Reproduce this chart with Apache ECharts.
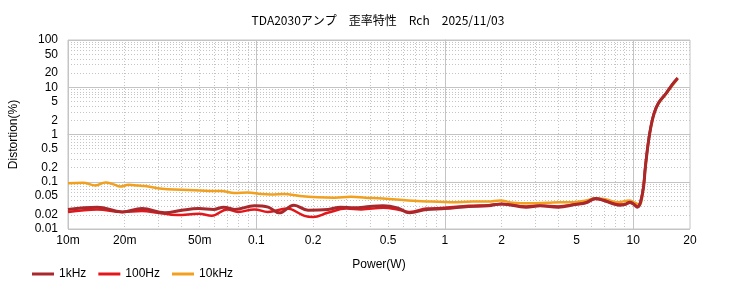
<!DOCTYPE html>
<html><head><meta charset="utf-8">
<script src="https://cdn.jsdelivr.net/npm/echarts@6/dist/echarts.min.js"></script>
<style>html,body{margin:0;padding:0;background:#fff}#c{width:756px;height:298px}</style>
</head><body><div id="c"></div>
<script>
// ---- data (Power in W, Distortion in %) ----
const seriesNames = ['1kHz', '100Hz', '10kHz'];
const power1k = [0.010,0.0143,0.0194,0.0247,0.0327,0.0402,0.0495,0.0593,0.067,0.0765,0.0976,0.1155,0.132,0.158,0.188,0.24,0.28,0.33,0.40,0.47,0.56,0.65,0.8,1.0,1.34,1.7,2.0,2.7,3.2,4.0,4.9,5.6,6.3,7.0,7.8,8.4,9.0,9.6,10.0,10.5,11.2,11.6,12.0,12.4,12.9,13.6,14.9,16.0,17.2];
const dist1k  = [0.026,0.029,0.023,0.027,0.022,0.025,0.027,0.026,0.029,0.026,0.031,0.029,0.022,0.032,0.025,0.026,0.029,0.028,0.030,0.031,0.028,0.022,0.026,0.027,0.030,0.031,0.034,0.029,0.031,0.029,0.033,0.036,0.044,0.040,0.034,0.032,0.033,0.037,0.034,0.029,0.057,0.21,0.65,1.46,2.8,4.6,7.3,11.0,15.5];
const power100 = [0.010,0.0143,0.0194,0.0247,0.030,0.038,0.0495,0.058,0.070,0.080,0.0976,0.115,0.145,0.18,0.20,0.239,0.30,0.36,0.47,0.56,0.65,0.8,1.0,1.34,1.7,2.0,2.7,3.2,4.0,4.9,5.6,6.3,7.0,7.8,8.4,9.0,9.6,10.0,10.5,11.2,11.6,12.0,12.4,12.9,13.6,14.9,16.0,17.2];
const dist100  = [0.023,0.026,0.023,0.024,0.022,0.0197,0.021,0.019,0.026,0.023,0.026,0.023,0.027,0.019,0.018,0.022,0.027,0.026,0.028,0.026,0.023,0.027,0.028,0.031,0.032,0.034,0.030,0.031,0.030,0.033,0.036,0.043,0.040,0.035,0.033,0.033,0.036,0.034,0.030,0.060,0.22,0.68,1.5,2.9,4.7,7.4,11.2,15.8];
const power10k = [0.010,0.012,0.014,0.0158,0.0175,0.0189,0.021,0.0235,0.0256,0.0315,0.040,0.047,0.056,0.065,0.0766,0.090,0.106,0.12,0.14,0.17,0.212,0.26,0.317,0.38,0.47,0.60,0.71,0.85,1.07,1.41,1.7,1.96,2.3,2.8,3.5,4.1,4.8,5.6,6.3,7.2,8.3,9.5,10.2,10.8,11.2,11.6,12.0,12.4,12.9,13.6,14.9,16.0,17.2];
const dist10k  = [0.093,0.095,0.083,0.097,0.088,0.079,0.086,0.083,0.081,0.071,0.068,0.066,0.064,0.064,0.058,0.059,0.055,0.054,0.055,0.050,0.047,0.046,0.048,0.046,0.044,0.041,0.039,0.038,0.037,0.038,0.038,0.040,0.036,0.035,0.036,0.037,0.037,0.040,0.045,0.042,0.037,0.040,0.036,0.032,0.055,0.20,0.62,1.4,2.7,4.5,7.2,10.5,15.0];

const xTickValues = [0.01,0.02,0.05,0.1,0.2,0.5,1,2,5,10,20];
const xTickLabels = ['10m','20m','50m','0.1','0.2','0.5','1','2','5','10','20'];
const yTickValues = [0.01,0.02,0.05,0.1,0.2,0.5,1,2,5,10,20,50,100];
const yTickLabels = ['0.01','0.02','0.05','0.1','0.2','0.5','1','2','5','10','20','50','100'];
const xMin = 0.01, xMax = 20, yMin = 0.01, yMax = 100;

// ---- build ----
const L = Math.log10;
function minorVals(lo, hi){
  const out=[];
  for(let e=Math.floor(L(lo)); e<Math.ceil(L(hi)); e++){
    for(let m=2;m<=9;m++){ const v=m*Math.pow(10,e); if(v>lo && v<hi) out.push(L(v)); }
  }
  return out;
}
function majorVals(lo, hi){
  const out=[]; for(let e=Math.ceil(L(lo)); e<=Math.floor(L(hi)); e++) out.push(e); return out;
}
function fmt(vals, labels){
  return function(v){ for(let i=0;i<vals.length;i++){ if(Math.abs(L(vals[i])-v)<1e-6) return labels[i]; } return ''; };
}
const gridCol = '#c4c4c4';
const font = 'Liberation Sans, Arial, sans-serif';
const toPts = (xs, ys) => xs.map((x,i)=>[L(x), L(ys[i])]);

const chart = echarts.init(document.getElementById('c'), null, {renderer:'canvas'});
chart.setOption({
  animation:false,
  title:{text:'TDA2030アンプ　歪率特性　Rch　2025/11/03', left:'center', top:9,
    textStyle:{fontFamily:'Noto Sans CJK JP', fontSize:12, fontWeight:'normal', color:'#000'}},
  grid:{left:65.5, right:66, top:40, bottom:69, show:true, borderColor:gridCol, borderWidth:1, containLabel:false},
  legend:{left:32, top:268, padding:0, itemWidth:22, itemHeight:3, itemGap:12, icon:'rect',
    textStyle:{fontFamily:font, fontSize:12, color:'#000'},
    data:seriesNames},
  xAxis:[
    {type:'value', min:L(xMin), max:L(xMax), name:'Power(W)', nameLocation:'middle', nameGap:30,
     nameTextStyle:{fontFamily:font, fontSize:12, color:'#000'},
     axisLine:{show:true, lineStyle:{color:gridCol}},
     axisTick:{show:false, customValues:majorVals(xMin,xMax)},
     axisLabel:{customValues:xTickValues.map(L), formatter:fmt(xTickValues,xTickLabels), fontFamily:font, fontSize:12, color:'#000', margin:6, showMinLabel:true, showMaxLabel:true, hideOverlap:false},
     splitLine:{show:true, lineStyle:{color:gridCol, width:1, type:'solid'}}},
    {type:'value', min:L(xMin), max:L(xMax), position:'top',
     axisLine:{show:false}, axisTick:{show:false, customValues:minorVals(xMin,xMax)},
     axisLabel:{show:false},
     splitLine:{show:true, lineStyle:{color:gridCol, width:1, type:[1,2]}}}
  ],
  yAxis:[
    {type:'value', min:L(yMin), max:L(yMax), name:'Distortion(%)', nameLocation:'middle', nameGap:48, nameRotate:90,
     nameTextStyle:{fontFamily:font, fontSize:12, color:'#000'},
     axisLine:{show:true, lineStyle:{color:gridCol}},
     axisTick:{show:true, length:7, lineStyle:{color:gridCol}, customValues:majorVals(yMin,yMax)},
     axisLabel:{customValues:yTickValues.map(L), formatter:fmt(yTickValues,yTickLabels), fontFamily:font, fontSize:12, color:'#000', margin:10, showMinLabel:true, showMaxLabel:true, hideOverlap:false},
     splitLine:{show:true, lineStyle:{color:gridCol, width:1, type:'solid'}}},
    {type:'value', min:L(yMin), max:L(yMax), position:'right',
     axisLine:{show:false}, axisTick:{show:false, customValues:minorVals(yMin,yMax)},
     axisLabel:{show:false},
     splitLine:{show:true, lineStyle:{color:gridCol, width:1, type:[1,2]}}}
  ],
  series:[
    {name:'10kHz', type:'line', data:toPts(power10k,dist10k), smooth:0.4, showSymbol:false, z:2,
     lineStyle:{color:'#f2a11f', width:2.5}, itemStyle:{color:'#f2a11f'}},
    {name:'100Hz', type:'line', data:toPts(power100,dist100), smooth:0.4, showSymbol:false, z:3,
     lineStyle:{color:'#e3171b', width:2.5}, itemStyle:{color:'#e3171b'}},
    {name:'1kHz', type:'line', data:toPts(power1k,dist1k), smooth:0.4, showSymbol:false, z:4,
     lineStyle:{color:'#a8282c', width:3}, itemStyle:{color:'#a8282c'}}
  ]
});
</script></body></html>
